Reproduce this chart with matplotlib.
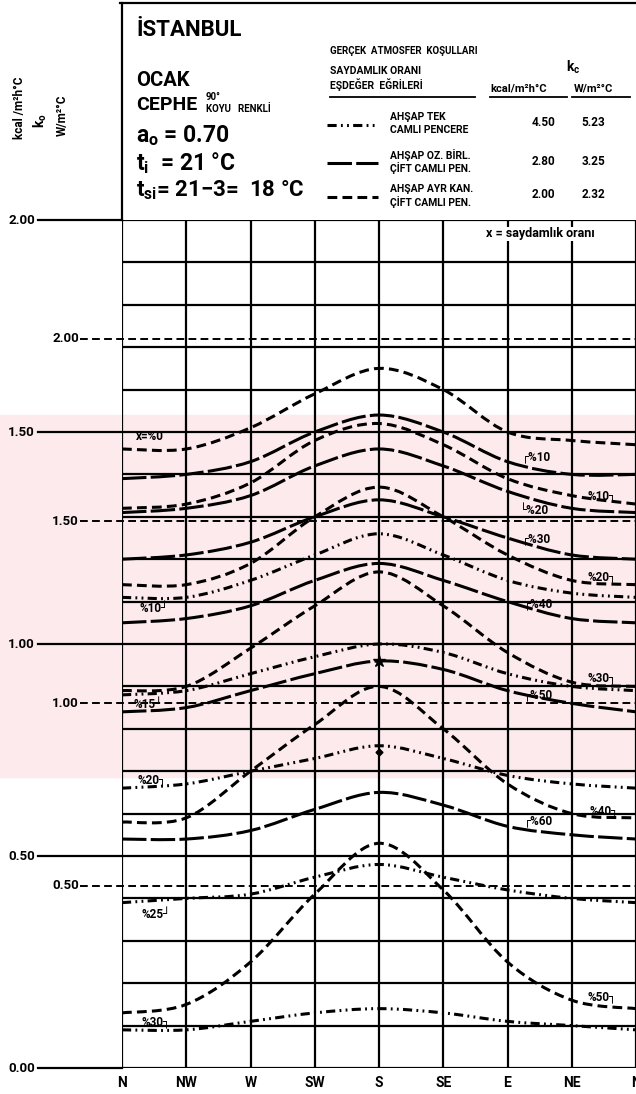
import numpy as np

import matplotlib
matplotlib.use("Agg")
import matplotlib.pyplot as plt
from matplotlib.path import Path
from matplotlib.patches import PathPatch, Rectangle
from matplotlib.lines import Line2D


plt.rcParams["font.family"] = ["Roboto", "DejaVu Sans"]
plt.rcParams["font.weight"] = "bold"
plt.rcParams["mathtext.fontset"] = "custom"
plt.rcParams["mathtext.rm"] = "Roboto:bold"
plt.rcParams["mathtext.it"] = "Roboto:bold"


DIRECTIONS = ["N", "NW", "W", "SW", "S", "SE", "E", "NE", "N"]

# k0 [kcal/m2h°C] read at each orientation, N -> NW -> ... -> NE -> N

# AHSAP AYR. KAN. CIFT CAMLI PEN. (kc = 2.00)
ayr_00 = [1.46, 1.46, 1.51, 1.59, 1.65, 1.60, 1.50, 1.48, 1.47]
ayr_10 = [1.32, 1.33, 1.38, 1.48, 1.52, 1.47, 1.39, 1.35, 1.33]
ayr_20 = [1.14, 1.14, 1.19, 1.30, 1.37, 1.30, 1.21, 1.15, 1.14]
ayr_30 = [0.89, 0.90, 0.99, 1.09, 1.17, 1.09, 0.98, 0.91, 0.90]
ayr_40 = [0.58, 0.59, 0.70, 0.81, 0.90, 0.80, 0.67, 0.60, 0.59]
ayr_50 = [0.13, 0.15, 0.25, 0.41, 0.53, 0.42, 0.25, 0.16, 0.14]

# AHSAP OZ. BIRL. CIFT CAMLI PEN. (kc = 2.80)
oz_10 = [1.39, 1.40, 1.43, 1.50, 1.54, 1.50, 1.43, 1.40, 1.40]
oz_20 = [1.31, 1.32, 1.35, 1.42, 1.46, 1.42, 1.36, 1.32, 1.31]
oz_30 = [1.20, 1.21, 1.24, 1.30, 1.34, 1.30, 1.25, 1.21, 1.20]
oz_40 = [1.05, 1.06, 1.09, 1.15, 1.19, 1.15, 1.10, 1.06, 1.05]
oz_50 = [0.84, 0.85, 0.89, 0.93, 0.96, 0.94, 0.89, 0.86, 0.84]
oz_60 = [0.54, 0.54, 0.56, 0.61, 0.65, 0.62, 0.57, 0.55, 0.54]

# AHSAP TEK CAMLI PENCERE (kc = 4.50)
tek_10 = [1.11, 1.11, 1.15, 1.21, 1.26, 1.21, 1.15, 1.12, 1.11]
tek_15 = [0.88, 0.89, 0.93, 0.97, 1.00, 0.98, 0.93, 0.90, 0.89]
tek_20 = [0.66, 0.67, 0.70, 0.73, 0.76, 0.73, 0.69, 0.67, 0.66]
tek_25 = [0.39, 0.40, 0.41, 0.45, 0.48, 0.45, 0.42, 0.40, 0.39]
tek_30 = [0.09, 0.09, 0.11, 0.13, 0.14, 0.13, 0.11, 0.10, 0.09]

KCAL_TICKS = [0.0, 0.5, 1.0, 1.5, 2.0]
WATT_TICKS = [0.5, 1.0, 1.5, 2.0]
KCAL_TO_WATT = 1.163

LS_AYR = (0, (3.2, 1.7))
LS_OZ = (0, (8.0, 1.4))
LS_TEK = (0, (3.0, 1.4, 0.6, 1.4, 0.6, 1.4))

W_PX, H_PX = 636, 1094
GRID_LEFT, GRID_RIGHT = 122, 636
GRID_TOP, GRID_BOTTOM = 220, 1068


def fx(x):
    return x / W_PX


def fy(y):
    return 1 - y / H_PX


def dx(px):
    return (px - GRID_LEFT) / (GRID_RIGHT - GRID_LEFT) * 8


def dy(py):
    return (GRID_BOTTOM - py) / (GRID_BOTTOM - GRID_TOP) * 2


def smooth_path(values):
    pts = np.column_stack([np.arange(len(values)), values]).astype(float)
    ext = np.vstack([pts[0], pts, pts[-1]])
    verts = [pts[0]]
    codes = [Path.MOVETO]
    for i in range(len(pts) - 1):
        p0, p1, p2, p3 = ext[i], ext[i + 1], ext[i + 2], ext[i + 3]
        verts += [p1 + (p2 - p0) / 6, p2 - (p3 - p1) / 6, p2]
        codes += [Path.CURVE4] * 3
    return Path(verts, codes)


def draw_curve(ax, values, ls):
    ax.add_patch(PathPatch(smooth_path(values), fill=False, lw=2.2,
                           ls=ls, edgecolor="black", capstyle="butt", zorder=4))


fig = plt.figure(figsize=(W_PX / 100, H_PX / 100), dpi=100)
fig.patch.set_facecolor("white")

# faint pink watermark band of the scan
fig.add_artist(Rectangle((0, fy(777)), 1, fy(415) - fy(777),
                         transform=fig.transFigure, color="#fdeaed", zorder=0))

ax = fig.add_axes([fx(GRID_LEFT), fy(GRID_BOTTOM),
                   fx(GRID_RIGHT) - fx(GRID_LEFT), fy(GRID_TOP) - fy(GRID_BOTTOM)])
ax.set_xlim(0, 8)
ax.set_ylim(0, 2.0)
ax.axis("off")

# grid
ax.vlines(range(9), 0, 2.0, color="black", lw=1.6, zorder=2)
ax.hlines(np.arange(0, 2.01, 0.1), 0, 8, color="black", lw=1.6, zorder=2)

# kcal scale (solid) and W scale (dashed) on the left
for v in KCAL_TICKS:
    ax.plot([dx(38), 0], [v, v], color="black", lw=1.6, clip_on=False)
    ax.text(dx(35), v, f"{v:.2f}", ha="right", va="center", fontsize=9.5, clip_on=False)
for w in WATT_TICKS:
    k = w / KCAL_TO_WATT
    ax.plot([dx(80), 8], [k, k], color="black", lw=1.4, ls=(0, (4, 2.2)),
            clip_on=False, zorder=3)
    ax.text(dx(79), k, f"{w:.2f}", ha="right", va="center", fontsize=9.5, clip_on=False)

for i, d in enumerate(DIRECTIONS):
    ax.text(i, dy(1083), d, ha="center", va="center", fontsize=10, clip_on=False)

# curves
for vals in [ayr_00, ayr_10, ayr_20, ayr_30, ayr_40, ayr_50]:
    draw_curve(ax, vals, LS_AYR)
for vals in [oz_10, oz_20, oz_30, oz_40, oz_50, oz_60]:
    draw_curve(ax, vals, LS_OZ)
for vals in [tek_10, tek_15, tek_20, tek_25, tek_30]:
    draw_curve(ax, vals, LS_TEK)

ax.plot(4, oz_50[4], marker="*", ms=9, color="black", zorder=5)
ax.plot(4, tek_20[4] - 0.015, marker="D", ms=3.5, color="black", zorder=5)

# curve labels
label_kw = dict(fontsize=8.5, va="center", zorder=6)
for s, x, y in [("x=%0", 136, 436), ("%10┘", 139, 609), ("%15┘", 134, 704),
                ("%20┐", 137, 780), ("%25┘", 141, 915), ("%30┐", 142, 1022)]:
    fig.text(fx(x), fy(y), s, ha="left", **label_kw)
for s, x, y in [("┌%10", 522, 457), ("└%20", 520, 510), ("┌%30", 522, 539),
                ("┌%40", 524, 604), ("┌%50", 524, 695), ("┌%60", 524, 821)]:
    fig.text(fx(x), fy(y), s, ha="left", **label_kw)
for s, x, y in [("%10┐", 588, 496), ("%20┐", 587, 577), ("%30┐", 588, 678),
                ("%40┐", 589, 811), ("%50┐", 588, 997)]:
    fig.text(fx(x), fy(y), s, ha="left", **label_kw)

fig.text(fx(540), fy(234), "x = saydamlık oranı", ha="center", va="center", fontsize=9,
         bbox=dict(facecolor="white", edgecolor="none", pad=0.5), zorder=6)

# header box
fig.add_artist(Line2D([fx(120), fx(636)], [fy(3), fy(3)], lw=1.6, color="black"))
fig.add_artist(Line2D([fx(GRID_LEFT), fx(GRID_LEFT)], [fy(3), fy(GRID_TOP)], lw=1.6, color="black"))

fig.text(fx(19), fy(108), "kcal /m²h°C", rotation=90, ha="center", va="center", fontsize=8.5)
fig.text(fx(40), fy(121), "$\\mathrm{k_o}$", rotation=90, ha="center", va="center", fontsize=10)
fig.text(fx(62), fy(115), "W/m²°C", rotation=90, ha="center", va="center", fontsize=8.5)

fig.text(fx(136), fy(30), "İSTANBUL", fontsize=16, va="center")
fig.text(fx(136), fy(80), "OCAK", fontsize=14.5, va="center")
fig.text(fx(136), fy(105), "CEPHE", fontsize=14, va="center")
fig.text(fx(206), fy(97), "90°", fontsize=7, va="center")
fig.text(fx(206), fy(109), "KOYU   RENKLİ", fontsize=7, va="center")
fig.text(fx(136), fy(136), "$\\mathrm{a_o}$ = 0.70", fontsize=16.5, va="center")
fig.text(fx(136), fy(163), "$\\mathrm{t_i}$  = 21 °C", fontsize=16.5, va="center")
fig.text(fx(136), fy(190), "$\\mathrm{t_{si}}$= 21−3=  18 °C", fontsize=16, va="center")

hdr = dict(fontsize=7.5, va="center")
fig.text(fx(330), fy(51), "GERÇEK  ATMOSFER  KOŞULLARI", fontsize=7, va="center")
fig.text(fx(330), fy(71), "SAYDAMLIK ORANI", **hdr)
fig.text(fx(330), fy(85), "EŞDEĞER  EĞRİLERİ", **hdr)
fig.text(fx(566), fy(67), "$\\mathrm{k_c}$", fontsize=10, va="center")
fig.text(fx(490), fy(88), "kcal/m²h°C", fontsize=8, va="center")
fig.text(fx(574), fy(88), "W/m²°C", fontsize=8, va="center")
for x0, x1 in [(330, 475), (490, 567), (572, 630)]:
    fig.add_artist(Line2D([fx(x0), fx(x1)], [fy(97), fy(97)], lw=1.3, color="black"))

legend_rows = [
    (LS_TEK, 125, "AHŞAP TEK", "CAMLI PENCERE", "4.50", "5.23"),
    (LS_OZ, 163, "AHŞAP OZ. BİRL.", "ÇİFT CAMLI PEN.", "2.80", "3.25"),
    (LS_AYR, 197, "AHŞAP AYR KAN.", "ÇİFT CAMLI PEN.", "2.00", "2.32"),
]
for ls, y, t1, t2, kc, wc in legend_rows:
    fig.add_artist(Line2D([fx(327), fx(378)], [fy(y), fy(y)], lw=2.2, ls=ls, color="black"))
    fig.text(fx(390), fy(y - 8), t1, **hdr)
    fig.text(fx(390), fy(y + 5), t2, **hdr)
    fig.text(fx(543), fy(y - 2), kc, ha="center", fontsize=8.5, va="center")
    fig.text(fx(593), fy(y - 2), wc, ha="center", fontsize=8.5, va="center")

fig.savefig("out.png", dpi=100)
